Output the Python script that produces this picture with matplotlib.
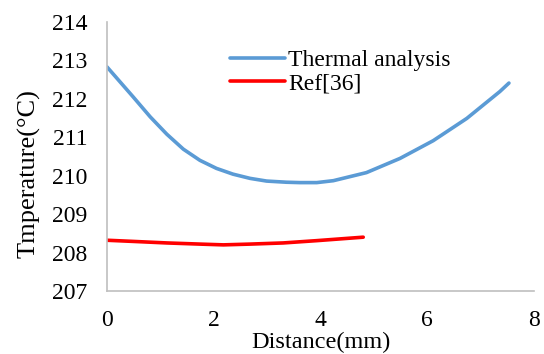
import matplotlib
matplotlib.use("Agg")
import matplotlib.pyplot as plt

plt.rcParams['font.family'] = ['Liberation Serif', 'DejaVu Serif']

thermal_x = [0.0, 0.49, 0.81, 1.12, 1.43, 1.74, 2.05, 2.36, 2.68, 2.99, 3.36, 3.61, 3.93,
             4.24, 4.86, 5.49, 6.11, 6.74, 7.36, 7.53]
thermal_y = [212.83, 212.05, 211.53, 211.08, 210.69, 210.40, 210.19, 210.04, 209.93, 209.86,
             209.83, 209.82, 209.82, 209.87, 210.08, 210.45, 210.91, 211.49, 212.19, 212.41]
ref_x = [0.0, 0.49, 1.12, 1.74, 2.18, 2.68, 3.30, 3.93, 4.80]
ref_y = [208.32, 208.29, 208.25, 208.22, 208.20, 208.22, 208.25, 208.31, 208.40]
xticks = [0, 2, 4, 6, 8]
yticks = [207, 208, 209, 210, 211, 212, 213, 214]

fig = plt.figure(figsize=(5.44, 3.54), dpi=100)
ax = fig.add_axes([0.1967, 0.178, 0.785, 0.760])
ax.plot(thermal_x, thermal_y, color='#5B9BD5', lw=2.6, label='Thermal analysis',
        solid_capstyle='round', solid_joinstyle='round')
ax.plot(ref_x, ref_y, color='#FF0000', lw=2.6, label='Ref[36]',
        solid_capstyle='round', solid_joinstyle='round')
ax.set_xlim(0, 8)
ax.set_ylim(207, 214)
ax.set_xticks(xticks)
ax.set_yticks(yticks)
ax.tick_params(axis='y', length=0, labelsize=17, pad=14)
ax.tick_params(axis='x', length=0, labelsize=17, pad=14)
for s in ['top', 'right']:
    ax.spines[s].set_visible(False)
for s in ['left', 'bottom']:
    ax.spines[s].set_color('#BFBFBF')
    ax.spines[s].set_linewidth(1.2)
ax.set_xlabel('Distance(mm)', fontsize=17.5, labelpad=0)
ax.set_ylabel('Tmperature(°C)', fontsize=19)
ax.yaxis.set_label_coords(-0.155, 0.437)
ax.legend(loc='upper left', bbox_to_anchor=(0.25, 0.96), frameon=False, fontsize=17,
          handlelength=2.3, handletextpad=0.15, borderpad=0.2, labelspacing=0.1)
fig.savefig('out.png', dpi=100)
